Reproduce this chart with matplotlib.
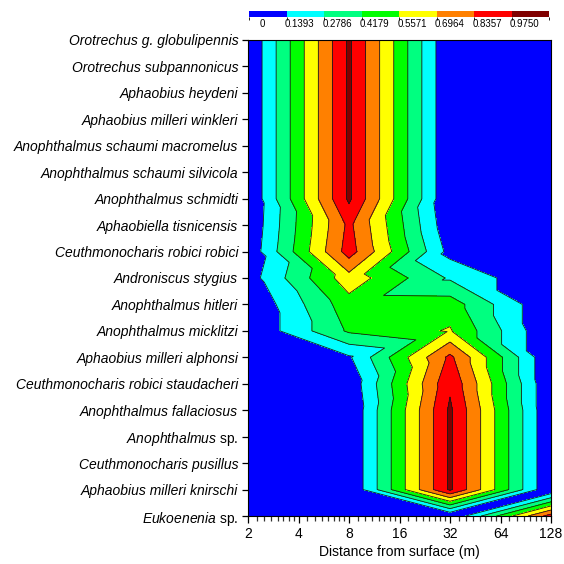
import numpy as np
import matplotlib
matplotlib.use('Agg')
from matplotlib import pyplot as plt
from matplotlib.colors import ListedColormap, BoundaryNorm
from matplotlib.cm import ScalarMappable
from matplotlib.tri import Triangulation

plt.rcParams['font.family'] = ['Liberation Sans', 'DejaVu Sans']
plt.rcParams['mathtext.fontset'] = 'custom'
plt.rcParams['mathtext.it'] = 'Liberation Sans:italic'
plt.rcParams['mathtext.rm'] = 'Liberation Sans'

# Espécies (de cima para baixo) e classes de distância da superfície (m)
species = ['Orotrechus g. globulipennis', 'Orotrechus subpannonicus', 'Aphaobius heydeni',
           'Aphaobius milleri winkleri', 'Anophthalmus schaumi macromelus',
           'Anophthalmus schaumi silvicola', 'Anophthalmus schmidti', 'Aphaobiella tisnicensis',
           'Ceuthmonocharis robici robici', 'Androniscus stygius', 'Anophthalmus hitleri',
           'Anophthalmus micklitzi', 'Aphaobius milleri alphonsi',
           'Ceuthmonocharis robici staudacheri', 'Anophthalmus fallaciosus', 'Anophthalmus sp.',
           'Ceuthmonocharis pusillus', 'Aphaobius milleri knirschi', 'Eukoenenia sp.']
distance = [2, 8, 32, 128]

# Valores, uma lista por espécie (colunas = distance)
globulipennis = [0.00, 1.00, 0.00, 0.00]
subpannonicus = [0.00, 1.00, 0.00, 0.00]
heydeni = [0.00, 1.00, 0.00, 0.00]
winkleri = [0.00, 1.00, 0.00, 0.00]
macromelus = [0.00, 1.00, 0.00, 0.00]
silvicola = [0.00, 1.00, 0.00, 0.00]
schmidti = [0.00, 1.00, 0.00, 0.00]
tisnicensis = [0.01, 0.87, 0.03, 0.00]
robici = [0.03, 0.90, 0.09, 0.00]
stygius = [0.07, 0.64, 0.26, 0.00]
hitleri = [0.00, 0.50, 0.49, 0.00]
micklitzi = [0.00, 0.44, 0.57, 0.00]
alphonsi = [0.00, 0.12, 0.87, 0.00]
staudacheri = [0.00, 0.03, 0.95, 0.00]
fallaciosus = [0.00, 0.00, 1.00, 0.00]
anophthalmus_sp = [0.00, 0.00, 1.00, 0.00]
pusillus = [0.00, 0.00, 1.00, 0.00]
knirschi = [0.00, 0.00, 1.00, 0.00]
eukoenenia = [0.00, 0.00, 0.00, 0.90]

levels = [0, 0.1393, 0.2786, 0.4179, 0.5571, 0.6964, 0.8357, 0.9750]
colors = ['#0000ff', '#00ffff', '#00ff80', '#00ff00', '#ffff00', '#ff8000', '#ff0000', '#800000']

Z = np.array([globulipennis, subpannonicus, heydeni, winkleri, macromelus, silvicola, schmidti,
              tisnicensis, robici, stygius, hitleri, micklitzi, alphonsi, staudacheri,
              fallaciosus, anophthalmus_sp, pusillus, knirschi, eukoenenia])
xs = np.log2(distance)
ys = np.arange(len(species))
X, Y = np.meshgrid(xs, ys)

# Triangulação da grade: em cada célula a diagonal passa pelo par de cantos de menor soma
ncol = len(distance)
tris = []
for i in range(len(species) - 1):
    for j in range(ncol - 1):
        a = i * ncol + j
        b = a + 1
        c = a + ncol
        d = c + 1
        if Z[i, j] + Z[i + 1, j + 1] <= Z[i, j + 1] + Z[i + 1, j]:
            tris += [[a, b, d], [a, c, d]]
        else:
            tris += [[a, b, c], [b, c, d]]
triang = Triangulation(X.ravel(), Y.ravel(), np.array(tris))

fig = plt.figure(figsize=(5.64, 5.64), dpi=100)
ax = fig.add_axes([248 / 564, 48 / 564, 303 / 564, 476 / 564])

# Contorno preenchido + linhas
ax.tricontourf(triang, Z.ravel(), levels=levels[1:], colors=colors, extend='both')
ax.tricontour(triang, Z.ravel(), levels=levels[1:], colors='#1a1a1a', linewidths=0.6)

ax.set_xlim(xs[0], xs[-1])
ax.set_ylim(ys[-1], ys[0])

major = np.arange(xs[0], xs[-1] + 1)
ax.set_xticks(major)
ax.set_xticklabels([str(int(2 ** v)) for v in major])
minor = [np.log2(2 ** v * (1 + j / 8)) for v in major[:-1] for j in range(1, 8)]
ax.set_xticks(minor, minor=True)
ax.tick_params(axis='x', which='major', length=5, width=0.9, labelsize=10, pad=3)
ax.tick_params(axis='x', which='minor', length=3.5, width=0.9, color='#333333')

labels = []
for nome in species:
    if nome.endswith(' sp.'):
        labels.append('$\\mathit{' + nome[:-4] + '}$ sp.')
    else:
        labels.append(nome)
ax.set_yticks(ys)
ax.set_yticklabels(labels)
for lbl, nome in zip(ax.get_yticklabels(), species):
    if not nome.endswith(' sp.'):
        lbl.set_fontstyle('italic')
ax.tick_params(axis='y', length=4.5, width=0.9, labelsize=10, pad=2.5)

for s in ax.spines.values():
    s.set_linewidth(0.8)

ax.set_xlabel('Distance from surface (m)', fontsize=10, labelpad=3)

# Barra de cores no topo
cax = fig.add_axes([249.3 / 564, 1 - 16.7 / 564, 300 / 564, 6 / 564])
cb_norm = BoundaryNorm(np.arange(len(colors) + 1), len(colors))
cb = fig.colorbar(ScalarMappable(norm=cb_norm, cmap=ListedColormap(colors)), cax=cax,
                  orientation='horizontal')
cb.set_ticks(np.arange(len(colors)) + 0.34)
cb.set_ticklabels(['0' if v == 0 else f'{v:.4f}' for v in levels])
cb.outline.set_visible(False)
cax.tick_params(length=0, labelsize=7, pad=2)

plt.savefig('out.png', dpi=100)
